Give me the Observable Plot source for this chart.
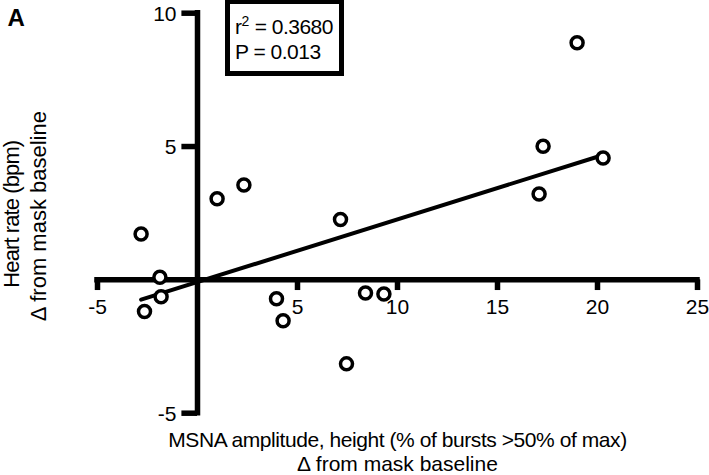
<!DOCTYPE html>
<html>
<head>
<meta charset="utf-8">
<script src="https://cdn.jsdelivr.net/npm/d3@7"></script>
<script src="https://cdn.jsdelivr.net/npm/@observablehq/plot@0.6"></script>
<style>
  body { margin: 0; background: #fff; }
  #wrap { position: relative; width: 709px; height: 475px; overflow: hidden; font-family: "Liberation Sans", Arial, sans-serif; }
  #stats { position: absolute; left: 225px; top: -1px; width: 119px; height: 77px; box-sizing: border-box;
           border: 5px solid #000; background: #fff; color: #000; font-size: 21px; line-height: 25px;
           padding: 9.5px 0 0 5px; letter-spacing: -0.5px; white-space: nowrap; }
  #stats .sup { font-size: 14px; line-height: 0; vertical-align: 8px; letter-spacing: 0; }
</style>
</head>
<body>
<div id="wrap"></div>
<script>
// ---- data ----
const xValues = [-2.82, -1.88, -1.82, -2.65, 0.98, 2.32, 3.95, 4.28, 7.15, 7.45, 8.40, 9.32, 17.08, 17.28, 18.98, 20.28];
const yValues = [ 1.72,  0.10, -0.63, -1.19, 3.04, 3.56, -0.71, -1.53, 2.26, -3.15, -0.49, -0.53, 3.22, 5.01, 8.89, 4.57];
const xTicks = [-5, 5, 10, 15, 20, 25];
const yTicks = [-5, 5, 10];
const xDomain = [-5, 25];
const yDomain = [-5, 10];
const xTitle = ["MSNA amplitude, height (% of bursts >50% of max)", "\u0394 from mask baseline"];
const yTitle = ["Heart rate (bpm)", "\u0394 from mask baseline"];
const panelLabel = ["A"];
const statR2 = "0.3680";
const statP = "0.013";

const points = xValues.map((x, i) => ({x, y: yValues[i]}));

const plot = Plot.plot({
  width: 709,
  height: 475,
  marginLeft: 97,
  marginRight: 12,
  marginTop: 12.7,
  marginBottom: 62.3,
  x: {domain: xDomain, axis: null},
  y: {domain: yDomain, axis: null},
  style: {fontFamily: '"Liberation Sans", Arial, sans-serif', background: "#fff", color: "#000", overflow: "visible"},
  marks: [
    // axes crossing at origin
    Plot.ruleY([0], {x1: xDomain[0], x2: xDomain[1], stroke: "#000", strokeWidth: 5.5, strokeLinecap: "square"}),
    Plot.ruleX([0], {y1: yDomain[0], y2: yDomain[1], stroke: "#000", strokeWidth: 5.5, strokeLinecap: "square"}),
    Plot.ruleX(xTicks, {x: d => d, y1: 0, y2: -0.4, stroke: "#000", strokeWidth: 5.5}),
    Plot.ruleY(yTicks, {y: d => d, x1: 0, x2: -0.78, stroke: "#000", strokeWidth: 5.5}),
    Plot.text(xTicks, {x: d => d, y: 0, dy: 27.5, text: d => String(d), fontSize: 21, fill: "#000"}),
    Plot.text(yTicks, {x: 0, y: d => d, dx: -21, dy: 0.7, textAnchor: "end", text: d => String(d), fontSize: 21, fill: "#000"}),
    // regression line and points
    Plot.linearRegressionY(points, {x: "x", y: "y", ci: 0, stroke: "#000", strokeWidth: 4}),
    Plot.dot(points, {x: "x", y: "y", r: 6, stroke: "#000", strokeWidth: 3.5, fill: "#fff"}),
    // axis titles
    Plot.text([xTitle[0]], {frameAnchor: "bottom", textAnchor: "middle", lineAnchor: "bottom", dy: 33.3, text: d => d, fontSize: 21, fill: "#000"}),
    Plot.text([xTitle[1]], {frameAnchor: "bottom", textAnchor: "middle", lineAnchor: "bottom", dy: 57.3, text: d => d, fontSize: 21, fill: "#000"}),
    Plot.text([yTitle[0]], {frameAnchor: "left", textAnchor: "middle", rotate: -90, lineAnchor: "bottom", dx: -78.7, dy: 1, text: d => d, fontSize: 22, fill: "#000"}),
    Plot.text([yTitle[1]], {frameAnchor: "left", textAnchor: "middle", rotate: -90, lineAnchor: "bottom", dx: -52, dy: 3, text: d => d, fontSize: 22, fill: "#000"}),
    // panel label
    Plot.text(panelLabel, {frameAnchor: "top-left", textAnchor: "start", lineAnchor: "top", dx: -90, dy: -4.7, text: d => d, fontSize: 24, fontWeight: "bold", fill: "#000"})
  ]
});

// condensed look of the original typeface
const spacing = new Map([
  [xTitle[0], "-0.43px"],
  [yTitle[0], "-0.9px"]
]);
d3.select(plot).selectAll("text").each(function() {
  const t = this.textContent;
  if (spacing.has(t)) this.style.letterSpacing = spacing.get(t);
});

const wrap = document.getElementById("wrap");
wrap.appendChild(plot);

const stats = document.createElement("div");
stats.id = "stats";
stats.innerHTML = 'r<span class="sup">2</span> = ' + statR2 + '<br>P = ' + statP;
wrap.appendChild(stats);
</script>
</body>
</html>
